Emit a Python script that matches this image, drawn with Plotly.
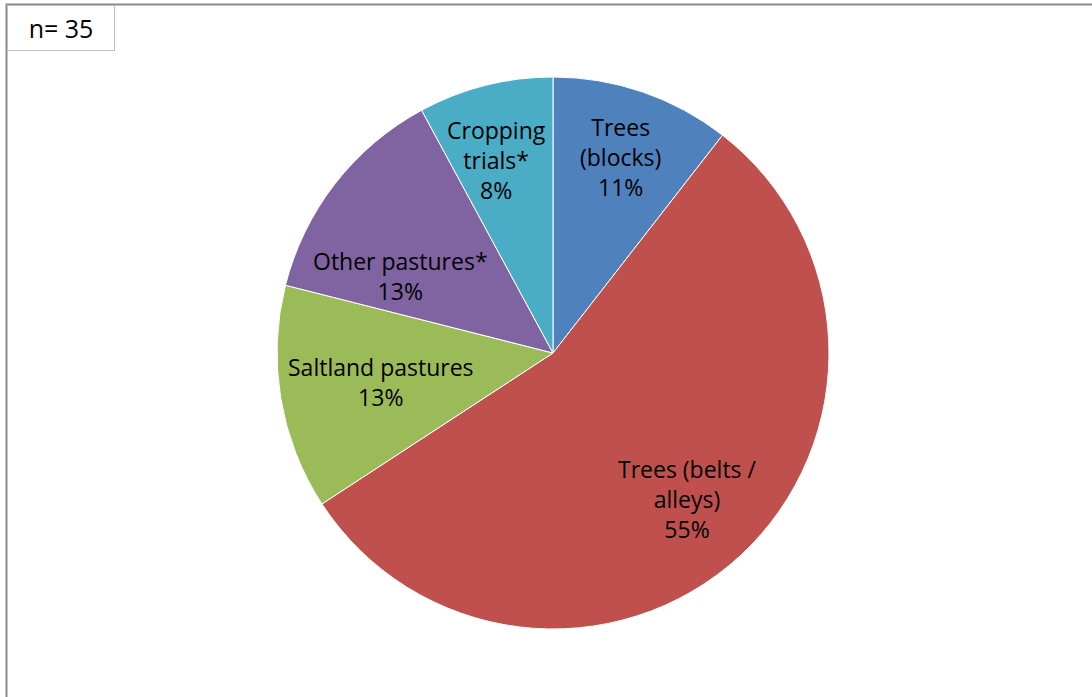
import math
import plotly.graph_objects as go

# categories and counts (n shown in corner box)
categories = ["Trees (blocks)", "Trees (belts / alleys)", "Saltland pastures",
              "Other pastures*", "Cropping trials*"]
label_text = ["Trees<br>(blocks)", "Trees (belts /<br>alleys)", "Saltland pastures",
              "Other pastures*", "Cropping<br>trials*"]
values = [4, 21, 5, 5, 3]
colors = ["#4F81BD", "#C0504D", "#9BBB59", "#8064A2", "#4BACC6"]
n_label = "n= 35"

# label placement (fraction of radius, angular nudge in degrees), Excel "best fit" look
label_radius = [0.75, 0.72, 0.63, 0.62, 0.73]
label_nudge = [0, 0, 0, -11, -2]

W, H = 1092, 697
CX, CY, R = 553, 353, 276
FONT = "Open Sans, Liberation Sans, sans-serif"

fig = go.Figure(go.Pie(
    labels=categories,
    values=values,
    textinfo="none",
    marker=dict(colors=colors, line=dict(color="white", width=1)),
    sort=False,
    direction="clockwise",
    rotation=0,
    hoverinfo="label+percent",
    showlegend=False,
    domain=dict(x=[(CX - R) / W, (CX + R) / W], y=[(H - CY - R) / H, (H - CY + R) / H]),
))

# slice labels at each slice's mid angle
total = sum(values)
annotations = []
cum = 0
for i, v in enumerate(values):
    mid = (cum + v / 2) / total * 360 + label_nudge[i]
    cum += v
    r = label_radius[i] * R
    px = CX + r * math.sin(math.radians(mid))
    py = CY - r * math.cos(math.radians(mid))
    annotations.append(dict(
        text=f"{label_text[i]}<br>{round(100 * v / total)}%",
        xref="paper", yref="paper", x=px / W, y=1 - py / H,
        xanchor="center", yanchor="middle", align="center",
        showarrow=False, font=dict(family=FONT, size=23, color="black"),
    ))

annotations.append(dict(
    text=n_label, xref="paper", yref="paper",
    x=7 / W, y=1 - 5 / H, xanchor="left", yanchor="top",
    showarrow=False, width=104, height=42,
    bordercolor="#bfbfbf", borderwidth=1, bgcolor="white",
    font=dict(family=FONT, size=25, color="black"),
))

fig.update_layout(
    width=W, height=H,
    margin=dict(l=0, r=0, t=0, b=0),
    paper_bgcolor="white",
    plot_bgcolor="white",
    font=dict(family=FONT, size=23, color="black"),
    shapes=[dict(
        type="rect", xref="paper", yref="paper",
        x0=6.5 / W, y0=1 - 4.5 / H, x1=1.2, y1=-0.2,
        line=dict(color="#8a8a8a", width=2),
    )],
    annotations=annotations,
)

# the page's default body margin would shift everything by 8px
fig.write_html("out.html", config={"displayModeBar": False},
               post_script="document.body.style.margin='0';")
